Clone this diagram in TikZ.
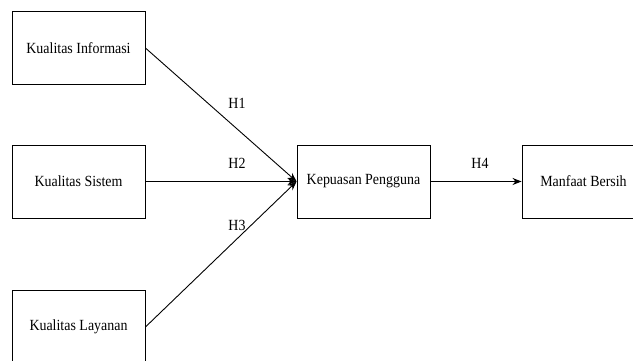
\documentclass[tikz,border=0pt]{standalone}
\usepackage{fontspec}
\setmainfont{Liberation Serif}[FakeStretch=0.9]
\usetikzlibrary{arrows.meta}
\begin{document}
\begin{tikzpicture}[x=1pt,y=1pt,
  var/.style={draw, line width=0.9pt, minimum width=133pt, minimum height=73pt,
    inner sep=0pt, font=\fontsize{15.5}{17}\selectfont},
  link/.style={line width=0.9pt, -{Stealth[length=9pt,width=7pt]}},
  hyp/.style={font=\fontsize{15.5}{17}\selectfont}]
\useasboundingbox (0,0) rectangle (633,361);
\clip (0,0) rectangle (633,361);
\fill[white] (0,0) rectangle (633,361);
% variables
\node[var] (info) at (78.5,313) {Kualitas Informasi};
\node[var] (sys) at (78.5,179.5) {Kualitas Sistem};
\node[var] (lay) at (78.5,34) {Kualitas Layanan};
\node[var] (kep) at (363.5,179.5) {Kepuasan Pengguna};
\node[var] (man) at (588.5,179.5) {\hspace*{-10pt}Manfaat Bersih};
% hypotheses
\draw[link] (info.east) -- (kep.west);
\draw[link] (sys.east) -- (kep.west);
\draw[link] (lay.east) -- (kep.west);
\draw[link] (kep.east) -- (man.west);
\node[hyp] (h1) at (237,258) {H1};
\node[hyp] (h2) at (237,198) {H2};
\node[hyp] (h3) at (237,136) {H3};
\node[hyp] (h4) at (480,198) {H4};
\end{tikzpicture}
\end{document}
